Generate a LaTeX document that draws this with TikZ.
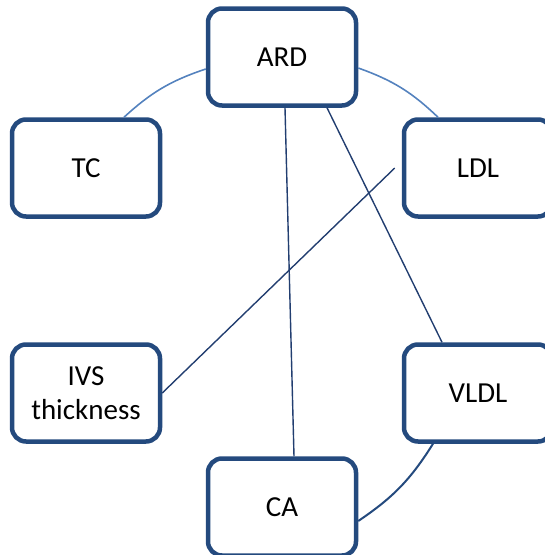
\documentclass[tikz,border=0pt]{standalone}
\usepackage{fontspec}
\setmainfont{Carlito}
\usepackage{tikz}

\definecolor{boxblue}{RGB}{36,74,126}
\definecolor{lineblue}{RGB}{34,62,112}
\definecolor{arcblue}{RGB}{84,130,190}

\begin{document}
\begin{tikzpicture}[x=1pt, y=-1pt,
  factor/.style={draw=boxblue, line width=4.5pt, rounded corners=14pt, fill=white,
                 minimum width=148pt, minimum height=97pt, align=center,
                 font=\fontsize{29}{34}\selectfont},
  link/.style={color=lineblue, line width=1.4pt},
  ring/.style={color=arcblue, line width=1.6pt},
  darkring/.style={color=boxblue, line width=2pt}]

% picture frame
\clip (0, 0) rectangle (545, 555);

% box centres
\coordinate (pARD) at (282, 57);
\coordinate (pTC) at (86, 168);
\coordinate (pLDL) at (478, 168);
\coordinate (pIVS) at (86, 393);
\coordinate (pVLDL) at (478, 393);
\coordinate (pCA) at (282, 507);

% draw boxes
\node[factor] (ARD) at (pARD) {ARD};
\node[factor] (TC) at (pTC) {TC};
\node[factor] (LDL) at (pLDL) {LDL};
\node[factor] (IVS) at (pIVS) {IVS\\thickness};
\node[factor] (VLDL) at (pVLDL) {VLDL};
\node[factor] (CA) at (pCA) {CA};

% draw arcs of the outer ring
\draw[ring] ([yshift=-12pt]ARD.west) to[bend right=12] ([xshift=38pt]TC.north);
\draw[ring] ([yshift=-11pt]ARD.east) to[bend left=12] ([xshift=-40pt]LDL.north);
\draw[darkring] ([xshift=-45pt]VLDL.south) to[bend left=12] ([yshift=-14pt]CA.east);

% draw straight links
\draw[link] ([xshift=3pt]ARD.south) -- ([xshift=12pt]CA.north);
\draw[link] ([xshift=45pt]ARD.south) -- ([xshift=-36pt]VLDL.north);
\draw[link] ([xshift=-7pt]LDL.west) -- (IVS.east);

\end{tikzpicture}
\end{document}
